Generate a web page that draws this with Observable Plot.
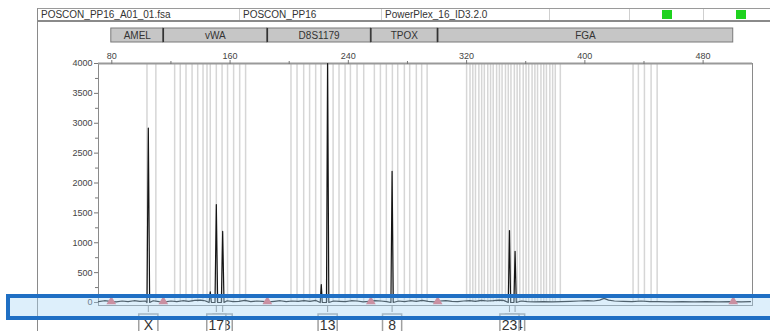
<!DOCTYPE html>
<html><head><meta charset="utf-8">
<script src="https://cdn.jsdelivr.net/npm/d3@7"></script>
<script src="https://cdn.jsdelivr.net/npm/@observablehq/plot@0.6"></script>
<style>
body{margin:0;background:#fff;}
#wrap{position:relative;width:770px;height:331px;overflow:hidden;font-family:"Liberation Sans",Arial,sans-serif;background:#fff;}
.abs{position:absolute;}
</style></head><body><div id="wrap"></div>
<script>
// ---------- data ----------
const headerCells = ["POSCON_PP16_A01_01.fsa", "POSCON_PP16", "PowerPlex_16_ID3.2.0", "", "", ""];
const headerStatus = [false, false, false, false, true, true];
const lociNames = ["AMEL", "vWA", "D8S1179", "TPOX", "FGA"];
const lociBounds = [79.66, 114.84, 185.21, 255.24, 300.43, 500.37];
const binsBp = [
  103.8, 109.8,
  122.5, 126.3, 130.2, 134.3, 138.1, 141.7, 144.4, 146.6, 150.7, 154.6, 158.3, 162.4, 166.5, 170.5,
  201.2, 205.3, 209.8, 213.8, 217.9, 221.5, 225.8, 229.7, 233.7, 237.8, 241.4, 245.9, 250.4,
  257.6, 261.7, 265.7, 269.8, 273.4, 277.9, 281.5, 286.0, 289.6, 293.3,
  320.0, 322.3, 324.2, 326.0, 328.3, 330.2, 332.0, 334.3, 336.2, 338.0, 340.3, 342.2, 344.0, 346.3,
  348.2, 350.0, 352.3, 354.2, 356.0, 358.3, 360.2, 362.0, 364.3, 366.2, 368.0, 370.3, 372.2, 374.0,
  376.3, 378.2, 380.0, 383.4,
  432.6, 436.2, 440.3, 444.8, 448.9
];
const xMajorTicks = [80, 160, 240, 320, 400, 480];
const xMinorTicks = [120, 200, 280, 360, 440];
const yMajorTicks = [0, 500, 1000, 1500, 2000, 2500, 3000, 3500, 4000];
const yMinorTicks = [250, 750, 1250, 1750, 2250, 2750, 3250, 3750];
// front labels (first allele of each call) and the labels partly hidden behind them
const alleleLabels = ["X", "17", "13", "8", "23"];
const alleleBp = [104.7, 150.7, 226.0, 269.6, 349.0];
const hiddenLabels = ["18", "24"];
const hiddenBp = [155.0, 352.8];
// [size (bp), signal (RFU)]
const tracePoints = [
  [71,15],[75,30],[79,20],[83,10],[87,25],[91,15],[95,30],[99,20],[103,25],
  [103.8,0],[104.7,2920],[105.6,0],
  [108,30],[112,15],[116,10],[120,25],[124,15],[128,30],[132,20],[136,35],[140,40],[143,30],
  [145.8,0],[146.6,180],[147.4,0],
  [149.8,0],[150.7,1640],[151.6,0],
  [154.1,0],[155.0,1190],[155.9,0],
  [158,30],[162,15],[166,20],[170,35],[174,15],[178,25],[182,20],[186,10],[190,20],[194,30],
  [198,15],[202,25],[206,20],[210,30],[214,20],[218,35],
  [221.0,0],[221.7,300],[222.4,0],
  [225.2,0],[226.0,4000],[226.8,0],
  [230,25],[234,20],[238,15],[242,30],[246,25],[250,10],[254,20],[258,30],[262,25],[266,15],
  [268.8,0],[269.6,2195],[270.4,0],
  [274,25],[278,15],[282,30],[286,20],[290,35],[294,20],[298,10],[302,25],[306,30],[310,20],
  [314,15],[318,25],[322,30],[326,20],[330,35],[334,25],[338,30],[342,40],[345,35],
  [348.2,0],[349.0,1205],[349.8,0],
  [352.0,0],[352.8,858],[353.6,0],
  [357,25],[361,15],[366,10],[372,15],[378,10],[384,15],[390,20],[396,25],[402,30],[406,25],
  [410,40],[413,70],[416,40],[420,25],[426,20],[432,15],[438,25],[444,15],[450,15],[458,10],
  [466,15],[474,10],[482,15],[490,10],[498,15],[506,10],[512,15]
];

// ---------- layout ----------
const W = 770, H = 331;
const xDomain = [71, 513.4];
const M = {top: 63, right: 18, bottom: 26, left: 98};
const wrap = document.getElementById("wrap");
const font = "Liberation Sans, Arial, sans-serif";

// left panel line
const vline = document.createElement("div");
vline.className = "abs";
Object.assign(vline.style, {left: "37px", top: "8px", width: "1px", height: "330px", background: "#8a8a8a"});
wrap.appendChild(vline);

// header row
const cellWidths = [202, 142, 168, 80, 74, 86];
const header = document.createElement("div");
header.className = "abs";
Object.assign(header.style, {left: "37px", top: "8px", height: "14px", display: "flex",
  borderTop: "1px solid #9a9a9a", borderBottom: "2px solid #8a8a8a", borderLeft: "1px solid #8a8a8a", boxSizing: "border-box"});
headerCells.forEach((t, i) => {
  const c = document.createElement("div");
  Object.assign(c.style, {width: cellWidths[i] + "px", height: "11px", position: "relative",
    borderRight: "1px solid #cfcfcf", boxSizing: "border-box", fontSize: "10px", lineHeight: "11px",
    color: "#333", paddingLeft: "3px", whiteSpace: "nowrap", overflow: "hidden"});
  c.textContent = t;
  if (headerStatus[i]) {
    const g = document.createElement("div");
    Object.assign(g.style, {position: "absolute", left: "32px", top: "1px", width: "10px", height: "9px", background: "#1ed21e"});
    c.appendChild(g);
  }
  header.appendChild(c);
});
wrap.appendChild(header);

// locus bar (same x scale)
const loci = lociNames.map((name, i) => ({name, start: lociBounds[i], end: lociBounds[i + 1]}));
const locusPlot = Plot.plot({
  width: W, height: 16, marginTop: 1, marginBottom: 1, marginLeft: M.left, marginRight: M.right,
  x: {domain: xDomain, axis: null},
  style: {fontFamily: font, fontSize: "10px", color: "#333", background: "transparent", overflow: "visible"},
  marks: [
    Plot.rect(loci, {x1: "start", x2: "end", fill: "#c6c6c6", stroke: "#7a7a7a", strokeWidth: 1}),
    Plot.ruleX(lociBounds.slice(1, -1), {stroke: "#333", strokeWidth: 1.5}),
    Plot.text(loci, {x: d => (d.start + d.end) / 2, text: "name", fill: "#333"})
  ]
});
locusPlot.classList.add("abs");
locusPlot.style.left = "0px"; locusPlot.style.top = "27px";
wrap.appendChild(locusPlot);

// main electropherogram
const alleles = alleleLabels.map((label, i) => ({label, bp: alleleBp[i]}));
const hidden = hiddenLabels.map((label, i) => ({label, bp: hiddenBp[i]}));
const labelLayer = (data) => [
  Plot.ruleX(data, {x: "bp", y1: 0, y2: 0, insetTop: 3, insetBottom: -10, stroke: "#888"}),
  Plot.dot(data, {x: "bp", y: 0, dy: 21, symbol: "square", r: 10.8, fill: "white", stroke: "#a0a0a0"}),
  Plot.text(data, {x: "bp", y: 0, dy: 23, text: "label", fontSize: 14, fill: "#333"})
];
const main = Plot.plot({
  width: W, height: H, marginTop: M.top, marginRight: M.right, marginBottom: M.bottom, marginLeft: M.left,
  x: {domain: xDomain, axis: null},
  y: {domain: [-50, 4000], axis: null},
  style: {fontFamily: font, fontSize: "9px", color: "#444", background: "transparent", overflow: "visible"},
  marks: [
    Plot.ruleX(binsBp, {y1: 0, y2: 4000, stroke: "#d6d6d6", strokeWidth: 1.5}),
    Plot.frame({stroke: "#8a8a8a"}),
    Plot.ruleY([4000], {stroke: "#9a9a9a", strokeWidth: 2}),
    Plot.line(tracePoints, {x: d => d[0], y: d => d[1], stroke: "#151515", strokeWidth: 1.2}),
    Plot.dot(lociBounds, {x: d => d, y: 0, symbol: "triangle", r: 3.6, fill: "#df616b", dy: -1}),
    Plot.axisY({ticks: yMajorTicks, tickSize: 4, tickPadding: 2, tickFormat: d3.format("d"), label: null, stroke: "#777"}),
    Plot.axisY({ticks: yMinorTicks, tickSize: 3, tickFormat: () => "", label: null, stroke: "#777"}),
    Plot.axisX({anchor: "top", ticks: xMajorTicks, tickSize: 4, tickPadding: 1, tickFormat: d3.format("d"), label: null, stroke: "#777"}),
    Plot.axisX({anchor: "top", ticks: xMinorTicks, tickSize: 3, tickFormat: () => "", label: null, stroke: "#777"}),
    ...labelLayer(hidden),
    ...labelLayer(alleles)
  ]
});
main.classList.add("abs");
main.style.left = "0px"; main.style.top = "0px";
wrap.insertBefore(main, locusPlot);

// highlight overlay
const hl = document.createElement("div");
hl.className = "abs";
Object.assign(hl.style, {left: "6px", top: "294px", width: "800px", height: "26px", boxSizing: "border-box",
  border: "4px solid #1f6fc4", background: "rgba(170,214,246,0.4)"});
wrap.appendChild(hl);
</script></body></html>
